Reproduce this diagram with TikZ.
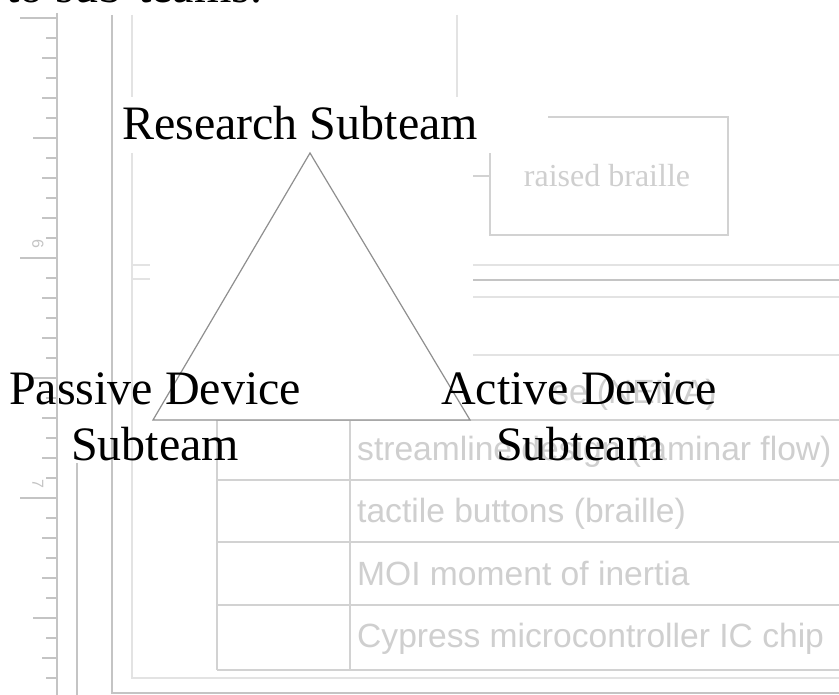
\documentclass[tikz,border=0pt]{standalone}
\usepackage{fontspec}
\setmainfont{Liberation Serif}
\newfontfamily\grsans{Liberation Sans}
\definecolor{rulegray}{HTML}{C4C4C4}
\definecolor{lightgray2}{HTML}{E3E3E3}
\definecolor{tablegray}{HTML}{D2D2D2}
\definecolor{textgray}{HTML}{CFCFCF}
\definecolor{trigray}{HTML}{8F8F8F}
\begin{document}
\begin{tikzpicture}[x=1pt,y=-1pt,
  rulerln/.style={draw=rulegray, line width=1.3pt},
  thinln/.style={draw=rulegray, line width=1.3pt},
  thickln/.style={draw=lightgray2, line width=2.5pt},
  tblln/.style={draw=tablegray, line width=1.4pt},
  tbltext/.style={font=\grsans\fontsize{33.6}{40}\selectfont, text=textgray, inner sep=0pt, anchor=base west},
  blk/.style={font=\fontsize{48}{55}\selectfont, text=black, inner sep=0pt, anchor=base},
  tri/.style={draw=trigray, fill=white, line width=1.2pt, line join=miter}]
\useasboundingbox (0,0) rectangle (839,695);
\clip (0,0) rectangle (839,695);
\fill[white] (0,0) rectangle (839,695);
% top text, cut off
\node[blk, anchor=base west] (toptext) at (6,3) {to sub-teams.};
% ruler
\draw[rulerln] (57,13) -- (57,695);
\foreach \i in {1,3,...,33} {\draw[rulerln] (46,18+20*\i) -- (57,18+20*\i);}
\foreach \i in {2,4,...,32} {\draw[rulerln] (42,18+20*\i) -- (57,18+20*\i);}
\foreach \i in {6,18,30} {\draw[rulerln] (33,18+20*\i) -- (57,18+20*\i);}
\foreach \i in {0,12,24} {\draw[rulerln] (20,18+20*\i) -- (57,18+20*\i);}
\node[rotate=-90, text=rulegray, font=\grsans\fontsize{16}{16}\selectfont, inner sep=0pt] (rsix) at (38,244) {6};
\node[rotate=-90, text=rulegray, font=\grsans\fontsize{16}{16}\selectfont, inner sep=0pt] (rseven) at (38,484) {7};
% page frame lines
\draw[thinln] (77,463) -- (77,695);
\draw[thinln] (112,15) -- (112,693) -- (839,693);
\draw[thickln] (132,15) -- (132,97);
\draw[thickln] (132,153) -- (132,678) -- (839,678);
\draw[thickln] (457,15) -- (457,97);
\draw[thickln] (132,265) -- (150,265);
\draw[thickln] (132,279) -- (150,279);
% right rules
\draw[thickln] (473,265) -- (839,265);
\draw[thinln] (473,280) -- (839,280);
\draw[thickln] (473,297) -- (839,297);
\draw[thickln] (473,355) -- (839,355);
% raised braille box
\draw[tblln] (548,117) -- (728,117) -- (728,235) -- (490,235) -- (490,153);
\draw[tblln] (473,176) -- (490,176);
\node[font=\fontsize{32}{36}\selectfont, text=textgray, inner sep=0pt, anchor=base] (braille) at (607,187) {raised braille};
% table
\foreach \yy in {420,480,542,605,670} {\draw[tblln] (217,\yy) -- (839,\yy);}
\draw[tblln] (217,420) -- (217,670);
\draw[tblln] (350,420) -- (350,670);
\node[tbltext] (nema) at (552,403) {se (NEMA)};
\node[tbltext] (row1) at (357,460) {streamline design (laminar flow)};
\node[tbltext] (row2) at (357,522) {tactile buttons (braille)};
\node[tbltext] (row3) at (357,585) {MOI moment of inertia};
\node[tbltext] (row4) at (357,647) {Cypress microcontroller IC chip};
% triangle
\coordinate (apex) at (310,153);
\coordinate (bl) at (153,420);
\coordinate (br) at (470,420);
\draw[tri] (apex) -- (bl) -- (br) -- cycle;
% labels
\node[blk] (research) at (300,140) {Research Subteam};
\node[blk] (passive1) at (155,405) {Passive Device};
\node[blk] (passive2) at (155,460) {Subteam};
\node[blk] (active1) at (579,404) {Active Device};
\node[blk] (active2) at (580,460) {Subteam};
\end{tikzpicture}
\end{document}
